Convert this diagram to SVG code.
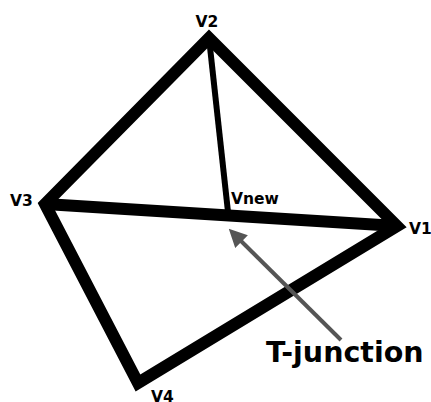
<svg xmlns="http://www.w3.org/2000/svg" width="431" height="402" viewBox="0 0 431 402">
<style>
.edge{fill:none;stroke:#000;stroke-width:12;stroke-linejoin:miter;stroke-miterlimit:10}
.lbl{font-family:"DejaVu Sans",sans-serif;font-weight:bold;font-size:15.5px;fill:#000}
</style>
<defs>
<marker id="ah" viewBox="0 0 10 10" refX="2" refY="5" markerWidth="4.5" markerHeight="4.5" orient="auto-start-reverse" markerUnits="strokeWidth">
<path d="M0,0 L10,5 L0,10 z" fill="#555"/>
</marker>
</defs>
<rect width="431" height="402" fill="#fff"/>
<g id="connectors">
<polygon class="edge" points="209,38 397,226 138,383 45,204"/>
<line class="edge" x1="45" y1="204" x2="397" y2="226" stroke-linecap="butt"/>
<line x1="209" y1="38" x2="228" y2="212" stroke="#000" stroke-width="6"/>
<line x1="341" y1="340" x2="239" y2="239" stroke="#555" stroke-width="4" marker-end="url(#ah)"/>
</g>
<g id="V2"><text class="lbl" x="207" y="27" text-anchor="middle">V2</text></g>
<g id="V3"><text class="lbl" x="10" y="206">V3</text></g>
<g id="Vnew"><text class="lbl" x="231" y="204">Vnew</text></g>
<g id="V1"><text class="lbl" x="409" y="234">V1</text></g>
<g id="V4"><text class="lbl" x="151" y="402">V4</text></g>
<g id="Tjunction"><text class="lbl" x="266" y="362" style="font-size:28.5px">T-junction</text></g>
</svg>
